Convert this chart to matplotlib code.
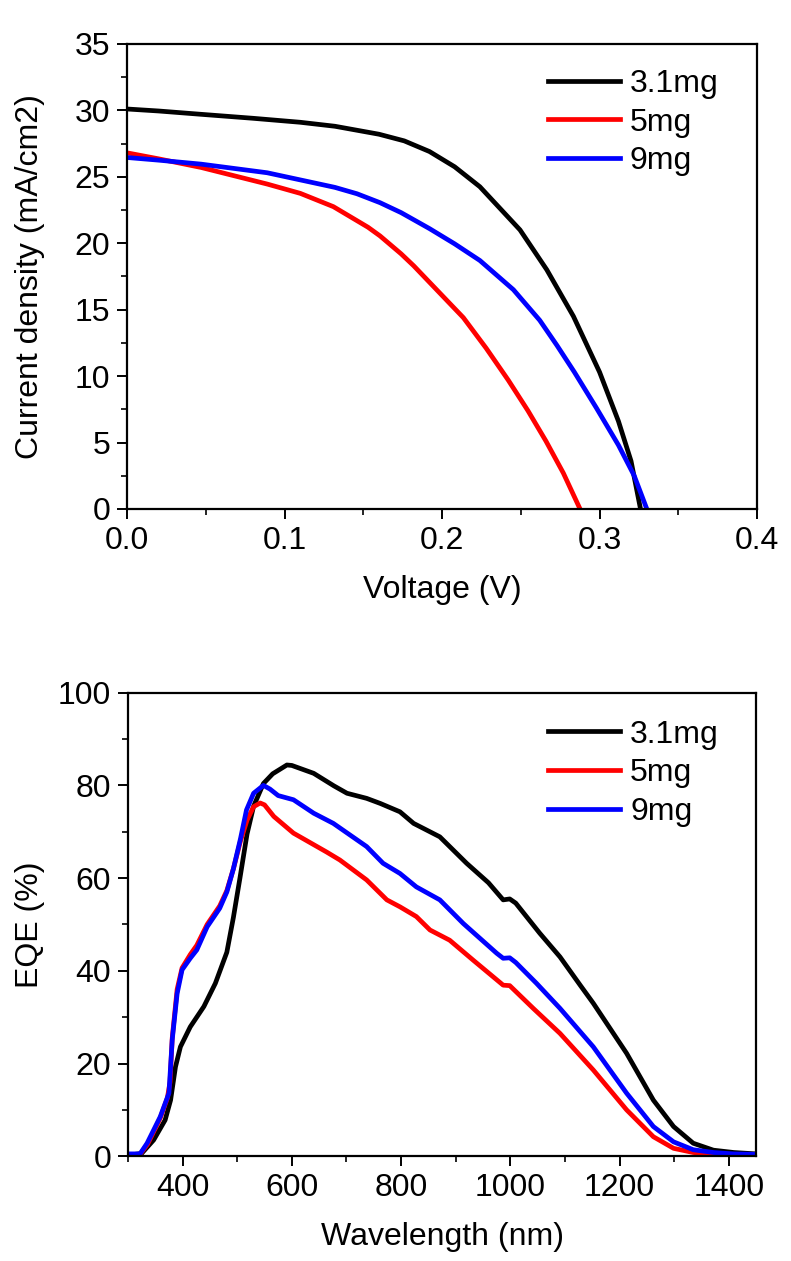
import matplotlib
matplotlib.use("Agg")
import matplotlib.pyplot as plt
from matplotlib.ticker import MultipleLocator, FormatStrFormatter

plt.rcParams['font.family'] = ['Liberation Sans', 'DejaVu Sans']

# ---------------- J-V data ----------------
labels = ["3.1mg", "5mg", "9mg"]
colors = ["#000000", "#ff0000", "#0000ff"]

v_31 = [0.0, 0.02, 0.047, 0.08, 0.11, 0.132, 0.16, 0.176, 0.192, 0.208, 0.224, 0.2495,
        0.2665, 0.2834, 0.300, 0.312, 0.320, 0.326]
j_31 = [30.1, 29.95, 29.7, 29.4, 29.1, 28.8, 28.2, 27.7, 26.9, 25.75, 24.25, 21.0,
        18.0, 14.5, 10.3, 6.6, 3.6, 0.0]

v_5 = [0.0, 0.02, 0.047, 0.089, 0.110, 0.131, 0.153, 0.1606, 0.174, 0.182, 0.2135,
       0.228, 0.242, 0.2545, 0.266, 0.277, 0.2876]
j_5 = [26.8, 26.35, 25.7, 24.45, 23.75, 22.75, 21.2, 20.55, 19.2, 18.3, 14.4,
       12.1, 9.7, 7.4, 5.1, 2.7, 0.0]

v_9 = [0.0, 0.02, 0.047, 0.089, 0.132, 0.146, 0.1606, 0.174, 0.192, 0.208, 0.224,
       0.2453, 0.262, 0.273, 0.284, 0.298, 0.312, 0.322, 0.330]
j_9 = [26.45, 26.25, 25.95, 25.3, 24.2, 23.72, 23.05, 22.3, 21.1, 19.95, 18.7,
       16.5, 14.2, 12.3, 10.3, 7.6, 4.8, 2.5, 0.0]

# ---------------- EQE data ----------------
wl_31 = [300, 325, 347, 368, 378, 387, 396, 414, 439, 460, 481, 493, 505, 518, 530,
         548, 565, 591, 600, 640, 677, 701, 737, 762, 798, 823, 871, 920, 960, 987,
         999, 1010, 1054, 1091, 1128, 1152, 1213, 1262, 1299, 1335, 1372, 1409, 1450]
eqe_31 = [0.2, 0.6, 3.5, 7.8, 12.1, 19.3, 23.6, 27.9, 32.3, 37.3, 44.0, 51.5, 60.0,
          69.5, 75.5, 80.4, 82.5, 84.4, 84.3, 82.6, 79.9, 78.3, 77.2, 76.1, 74.3,
          71.8, 68.9, 63.2, 59.0, 55.3, 55.5, 54.6, 48.1, 43.0, 36.9, 33.0, 22.2,
          12.1, 6.4, 2.8, 1.3, 0.8, 0.5]

wl_5 = [300, 322, 336, 359, 372, 377, 381, 390, 399, 414, 426, 445, 468, 481, 493,
        506, 518, 530, 542, 550, 567, 603, 664, 688, 737, 774, 798, 828, 853, 889,
        932, 987, 999, 1042, 1091, 1152, 1213, 1262, 1299, 1335, 1372, 1450]
eqe_5 = [0.4, 0.4, 2.6, 8.2, 12.5, 16.0, 25.5, 36.0, 40.6, 43.5, 45.5, 50.0, 54.0,
         57.3, 62.0, 68.0, 72.5, 75.4, 76.2, 75.8, 73.3, 69.7, 65.6, 63.9, 59.6,
         55.3, 53.8, 51.7, 48.8, 46.6, 42.3, 36.9, 36.8, 31.9, 26.5, 18.6, 10.0,
         4.2, 1.7, 0.8, 0.4, 0.3]

wl_9 = [300, 322, 335, 359, 370, 375, 381, 390, 399, 414, 426, 445, 468, 481, 493,
        506, 517, 530, 548, 560, 575, 603, 640, 676, 737, 767, 798, 828, 871, 914,
        975, 987, 999, 1010, 1048, 1091, 1152, 1213, 1262, 1299, 1335, 1372, 1409, 1450]
eqe_9 = [0.5, 0.5, 2.8, 8.5, 12.0, 13.6, 25.1, 35.1, 40.2, 42.7, 44.5, 49.5, 53.5,
         57.0, 62.0, 68.5, 74.7, 78.3, 80.0, 79.2, 77.8, 76.9, 74.0, 71.8, 66.8,
         63.2, 61.0, 58.1, 55.3, 50.2, 43.8, 42.7, 42.8, 41.8, 37.3, 31.9, 23.6,
         13.6, 6.4, 3.1, 1.4, 0.8, 0.5, 0.4]

FS = 23
LW = 3.4

fig = plt.figure(figsize=(7.91, 12.61), dpi=100)
ax1 = fig.add_axes([0.1606, 0.5964, 0.7965, 0.3688])
ax2 = fig.add_axes([0.1618, 0.0831, 0.794, 0.3676])


def style(ax):
    for s in ax.spines.values():
        s.set_linewidth(1.6)
    ax.tick_params(which='major', direction='out', length=7, width=1.4,
                   labelsize=FS, pad=5, top=False, right=False)
    ax.tick_params(which='minor', direction='out', length=4, width=1.2,
                   top=False, right=False)


leg_kw = dict(loc='upper left', frameon=False, fontsize=FS, handlelength=2.26,
              handletextpad=0.31, labelspacing=0.27, borderpad=0, borderaxespad=0)

for v, j, c, lab in zip([v_31, v_5, v_9], [j_31, j_5, j_9], colors, labels):
    ax1.plot(v, j, color=c, lw=LW, label=lab)
ax1.set_xlim(0, 0.4)
ax1.set_ylim(0, 35)
ax1.xaxis.set_major_locator(MultipleLocator(0.1))
ax1.xaxis.set_minor_locator(MultipleLocator(0.05))
ax1.yaxis.set_major_locator(MultipleLocator(5))
ax1.yaxis.set_minor_locator(MultipleLocator(2.5))
ax1.xaxis.set_major_formatter(FormatStrFormatter('%.1f'))
style(ax1)
ax1.set_xlabel("Voltage (V)", fontsize=FS)
ax1.set_ylabel("Current density (mA/cm2)", fontsize=FS)
ax1.xaxis.set_label_coords(0.5, -0.142)
ax1.yaxis.set_label_coords(-0.13, 0.5)
ax1.legend(bbox_to_anchor=(0.668, 0.946), **leg_kw)

for w, e, c, lab in zip([wl_31, wl_5, wl_9], [eqe_31, eqe_5, eqe_9], colors, labels):
    ax2.plot(w, e, color=c, lw=LW, label=lab)
ax2.set_xlim(300, 1450)
ax2.set_ylim(0, 100)
ax2.xaxis.set_major_locator(MultipleLocator(200))
ax2.xaxis.set_minor_locator(MultipleLocator(100))
ax2.yaxis.set_major_locator(MultipleLocator(20))
ax2.yaxis.set_minor_locator(MultipleLocator(10))
style(ax2)
ax2.set_xlabel("Wavelength (nm)", fontsize=FS)
ax2.set_ylabel("EQE (%)", fontsize=FS)
ax2.xaxis.set_label_coords(0.5, -0.142)
ax2.yaxis.set_label_coords(-0.132, 0.5)
ax2.legend(bbox_to_anchor=(0.669, 0.942), **leg_kw)

fig.savefig("out.png", dpi=100)
